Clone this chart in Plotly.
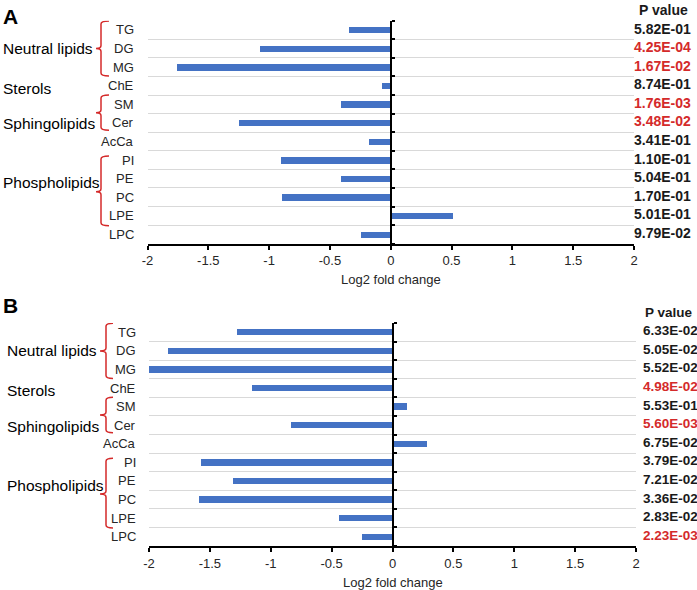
import plotly.graph_objects as go

# ---------------- data ----------------
lipids = ["TG", "DG", "MG", "ChE", "SM", "Cer", "AcCa", "PI", "PE", "PC", "LPE", "LPC"]

fc_a = [-0.35, -1.08, -1.76, -0.08, -0.41, -1.25, -0.18, -0.91, -0.41, -0.90, 0.51, -0.25]
p_a = [5.82e-01, 4.25e-04, 1.67e-02, 8.74e-01, 1.76e-03, 3.48e-02, 3.41e-01, 1.10e-01,
       5.04e-01, 1.70e-01, 5.01e-01, 9.79e-02]
sig_a = [0, 1, 1, 0, 1, 1, 0, 0, 0, 0, 0, 0]

fc_b = [-1.28, -1.84, -2.00, -1.15, 0.12, -0.83, 0.28, -1.57, -1.31, -1.59, -0.44, -0.25]
p_b = [6.33e-02, 5.05e-02, 5.52e-02, 4.98e-02, 5.53e-01, 5.60e-03, 6.75e-02, 3.79e-02,
       7.21e-02, 3.36e-02, 2.83e-02, 2.23e-03]
sig_b = [0, 0, 0, 1, 0, 1, 0, 0, 0, 0, 0, 1]

group_names = ["Neutral lipids", "Sterols", "Sphingolipids", "Phospholipids"]
x_tickvals = [-2, -1.5, -1, -0.5, 0, 0.5, 1, 1.5, 2]
x_ticktext = ["-2", "-1.5", "-1", "-0.5", "0", "0.5", "1", "1.5", "2"]
x_title = "Log2 fold change"
p_header = "P value"

# ---------------- styling / layout ----------------
W, H = 697, 590
FONT = "Arial, Liberation Sans, sans-serif"
BLUE = "#4472C4"
RED = "#D42A2A"
GRID = "#D9D9D9"
TXT = "#262626"

n = len(lipids)
ypos = list(range(n - 1, -1, -1))  # TG at top

# group label vertical positions (data units) and braces (top, bottom, tip)
group_label_y = [10.0, 7.85, 5.95, 2.78]
braces = [(11.48, 8.52, 10.0), (7.5, 5.6, 6.55), (4.22, 0.47, 2.3)]

panels = [
    dict(letter="A", fc=fc_a, p=p_a, sig=sig_a, xa="x", ya="y",
         l=147.5, r=634, t=20.7, b=243.7, cat_r=136, grp_l=1,
         bv=101, bt=96, bh=109, pv_l=632, pv_size=14, hd_l=637, letter_t=3),
    dict(letter="B", fc=fc_b, p=p_b, sig=sig_b, xa="x2", ya="y2",
         l=149, r=636, t=323, b=546, cat_r=138, grp_l=5,
         bv=106, bt=100, bh=113, pv_l=641, pv_size=13.5, hd_l=643, letter_t=292),
]

fig = go.Figure()
annotations = []
shapes = []

for i, P in enumerate(panels):
    fig.add_trace(go.Bar(
        x=P["fc"], y=ypos, orientation="h", width=0.34,
        marker=dict(color=BLUE, line=dict(width=0)),
        xaxis=P["xa"], yaxis=P["ya"], showlegend=False, hoverinfo="x+y",
    ))
    xd = [P["l"] / W, P["r"] / W]
    yd = [1 - P["b"] / H, 1 - P["t"] / H]
    suffix = "" if i == 0 else str(i + 1)
    fig.layout["xaxis" + suffix] = dict(
        domain=xd, anchor=P["ya"], range=[-2, 2],
        tickmode="array", tickvals=x_tickvals, ticktext=x_ticktext,
        showline=True, linecolor="black", linewidth=2,
        ticks="outside", ticklen=4, tickwidth=1.5, tickcolor="black",
        showgrid=False, zeroline=False,
        tickfont=dict(family=FONT, size=13, color=TXT), fixedrange=True,
    )
    fig.layout["yaxis" + suffix] = dict(
        domain=yd, anchor="free", position=(xd[0] + xd[1]) / 2, side="right",
        range=[-0.5, n - 0.5], tickmode="linear", tick0=0, dtick=1,
        showticklabels=False, ticks="", showgrid=False, zeroline=False,
        showline=True, linecolor="black", linewidth=2,
        minor=dict(tickmode="linear", tick0=0.5, dtick=1, showgrid=True,
                   gridcolor=GRID, gridwidth=1, ticks="outside", ticklen=3,
                   tickcolor="black", tickwidth=1.5),
        fixedrange=True,
    )
    yref = P["ya"]
    xref = P["xa"]
    # category labels
    for name, y in zip(lipids, ypos):
        annotations.append(dict(text=name, x=P["cat_r"] / W, xref="paper", y=y, yref=yref,
                                xanchor="right", yanchor="middle", showarrow=False,
                                font=dict(family=FONT, size=13, color=TXT)))
    # p-values
    for pv, s, y in zip(P["p"], P["sig"], ypos):
        annotations.append(dict(text="<b>%.2E</b>" % pv, x=P["pv_l"] / W, xref="paper",
                                y=y + 0.08, yref=yref, xanchor="left", yanchor="middle",
                                showarrow=False,
                                font=dict(family=FONT, size=P["pv_size"],
                                          color=RED if s else "#1a1a1a")))
    annotations.append(dict(text="<b>" + p_header + "</b>", x=P["hd_l"] / W, xref="paper",
                            y=1 - (P["t"] - 11) / H, yref="paper", xanchor="left",
                            yanchor="middle", showarrow=False,
                            font=dict(family=FONT, size=P["pv_size"], color="#1a1a1a")))
    # group labels
    for g, gy in zip(group_names, group_label_y):
        annotations.append(dict(text=g, x=P["grp_l"] / W, xref="paper", y=gy, yref=yref,
                                xanchor="left", yanchor="middle", showarrow=False,
                                font=dict(family=FONT, size=15.5, color="black")))
    # braces
    xv, xt, xh = P["bv"] / W, P["bt"] / W, P["bh"] / W
    rr = 0.16
    for top, bot, tip in braces:
        path = (f"M {xh},{top} Q {xv},{top} {xv},{top - rr} L {xv},{tip + rr} "
                f"Q {xv},{tip} {xt},{tip} Q {xv},{tip} {xv},{tip - rr} "
                f"L {xv},{bot + rr} Q {xv},{bot} {xh},{bot}")
        shapes.append(dict(type="path", path=path, xref="paper", yref=yref,
                           line=dict(color=RED, width=1.5)))
    # axis title
    annotations.append(dict(text=x_title, x=0, xref=xref, y=1 - (P["b"] + 36) / H, yref="paper",
                            xanchor="center", yanchor="middle", showarrow=False,
                            font=dict(family=FONT, size=13, color=TXT)))
    # panel letter
    annotations.append(dict(text="<b>" + P["letter"] + "</b>", x=1 / W, xref="paper",
                            y=1 - P["letter_t"] / H, yref="paper", xanchor="left", yanchor="top",
                            showarrow=False, font=dict(family=FONT, size=21, color="black")))

fig.update_layout(
    width=W, height=H, autosize=False,
    margin=dict(l=0, r=0, t=0, b=0, pad=0, autoexpand=False),
    paper_bgcolor="white", plot_bgcolor="white",
    annotations=annotations, shapes=shapes,
    bargap=0, showlegend=False,
)

fig.write_html("out.html", config={"displayModeBar": False},
               post_script="document.body.style.margin='0';document.body.style.overflow='hidden';")
